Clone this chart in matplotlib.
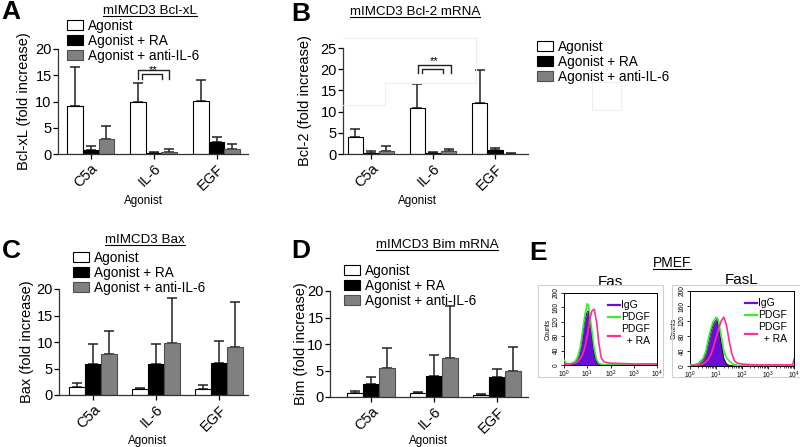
import numpy as np
import matplotlib
matplotlib.use("Agg")
import matplotlib.pyplot as plt
from matplotlib.patches import Patch, Rectangle
from matplotlib.lines import Line2D

plt.rcParams['font.family'] = ['Liberation Sans', 'DejaVu Sans']

agonists = ["C5a", "IL-6", "EGF"]
groups = ["Agonist", "Agonist + RA", "Agonist + anti-IL-6"]

# mean and top of error bar, per group: [C5a, IL-6, EGF]
bclxl_mean = [[9.2, 9.9, 10.1], [0.7, 0.2, 2.2], [2.8, 0.4, 0.9]]
bclxl_top = [[16.6, 13.5, 14.1], [1.6, 0.3, 3.3], [5.4, 0.9, 2.0]]
bcl2_mean = [[4.1, 10.8, 12.1], [0.3, 0.3, 0.9], [0.8, 0.6, 0.1]]
bcl2_top = [[6.0, 16.6, 19.9], [0.6, 0.4, 1.4], [1.8, 1.2, 0.15]]
bax_mean = [[1.5, 1.2, 1.1], [5.9, 5.8, 6.1], [7.7, 9.8, 9.0]]
bax_top = [[2.2, 1.4, 1.9], [9.6, 9.7, 10.2], [12.0, 18.3, 17.6]]
bim_mean = [[0.7, 0.8, 0.3], [2.4, 3.9, 3.7], [5.4, 7.3, 4.9]]
bim_top = [[1.1, 0.9, 0.5], [3.8, 7.9, 5.2], [9.3, 17.2, 9.4]]

# flow cytometry histograms (log10 of intensity vs counts)
flow_logx = [0.0, 0.1, 0.2, 0.3, 0.4, 0.5, 0.6, 0.7, 0.8, 0.9, 1.0, 1.05, 1.1, 1.2,
             1.3, 1.4, 1.5, 1.6, 1.7, 1.8, 2.0, 2.5, 3.0, 3.5, 3.95, 4.0]
fas_igg = [8, 3, 3, 4, 6, 10, 20, 45, 85, 125, 148, 150, 135, 80, 30, 8, 3, 1, 0, 0,
           0, 0, 0, 0, 0, 0]
fas_pdgf = [14, 4, 3, 4, 6, 12, 25, 50, 95, 140, 170, 165, 145, 95, 45, 15, 5, 2, 1, 0,
            0, 0, 0, 0, 0, 0]
fas_ra = [3, 2, 2, 3, 4, 6, 10, 18, 30, 50, 80, 100, 125, 150, 155, 120, 60, 20, 10, 7,
          5, 4, 3, 3, 3, 3]
fasl_igg = [4, 3, 4, 6, 10, 15, 30, 60, 90, 112, 122, 125, 110, 60, 20, 6, 2, 1, 0, 0,
            0, 0, 0, 0, 0, 0]
fasl_pdgf = [4, 3, 4, 7, 12, 20, 38, 70, 100, 120, 130, 128, 118, 80, 40, 22, 14, 8, 4, 2,
             0, 0, 0, 0, 0, 0]
fasl_ra = [2, 2, 2, 3, 4, 6, 10, 18, 30, 50, 75, 85, 100, 120, 130, 110, 70, 35, 15, 8,
           5, 3, 3, 3, 3, 18]

W, H = 800, 447
fig = plt.figure(figsize=(8, 4.47), dpi=100)


def fx(px):
    return px / W


def fy(py):
    return 1 - py / H


def px_axes(l, t, r, b):
    return fig.add_axes([fx(l), fy(b), (r - l) / W, (b - t) / H])


fills = ["white", "black", "#808080"]
edges = ["black", "black", "#4d4d4d"]


def bar_panel(ax, means, tops, ymax, xlim, ylab, ylab_x, xlab_xy):
    x = np.arange(len(agonists))
    w = 0.25
    for i in range(3):
        pos = x + (i - 1) * w
        m = np.array(means[i])
        t = np.array(tops[i])
        ax.bar(pos, m, w, color=fills[i], edgecolor=edges[i], linewidth=0.8, zorder=2)
        ax.errorbar(pos, m, yerr=[np.zeros(3), t - m], fmt="none", ecolor="#222222",
                    elinewidth=1.1, capsize=3.5, capthick=1.1, zorder=1)
    ax.set_xlim(*xlim)
    ax.set_ylim(0, ymax)
    ax.set_yticks(np.arange(0, ymax + 1, 5))
    ax.set_xticks(x)
    ax.set_xticklabels(agonists, rotation=45, ha="right", rotation_mode="anchor", fontsize=10.5)
    ax.tick_params(axis="y", labelsize=10.5, length=3.5, width=0.9, pad=1)
    ax.tick_params(axis="x", length=3.5, width=0.9, pad=2)
    for s in ["top", "right"]:
        ax.spines[s].set_visible(False)
    for s in ["left", "bottom"]:
        ax.spines[s].set_linewidth(0.9)
        ax.spines[s].set_color("#333333")
    ax.set_ylabel(ylab, fontsize=10.5)
    ax.yaxis.set_label_coords(ylab_x, 0.5)
    ax.set_xlabel("Agonist", fontsize=8.4, va="top")
    ax.xaxis.set_label_coords(*xlab_xy)


def bracket(ax, x0, x1, xi0, xi1, y_out, y_in, y_low, y_star):
    ax.plot([x0, x0, x1, x1], [y_low, y_out, y_out, y_low], color="#222222", lw=1)
    ax.plot([xi0, xi0, xi1, xi1], [y_low, y_in, y_in, y_low], color="#222222", lw=1)
    ax.text((x0 + x1) / 2, y_star, "**", ha="center", va="baseline", fontsize=8)


def legend_at(handles, x, y):
    fig.legend(handles, groups, loc="upper left", bbox_to_anchor=(fx(x), fy(y)),
               frameon=False, fontsize=9.8, handlelength=1.15, handleheight=0.75,
               handletextpad=0.4, labelspacing=0.08, borderpad=0, borderaxespad=0)


handles = [Patch(facecolor=fills[i], edgecolor=edges[i], linewidth=0.8) for i in range(3)]

# A
axA = px_axes(58, 49, 248, 154)
bar_panel(axA, bclxl_mean, bclxl_top, 20, (-0.52, 2.5), "Bcl-xL (fold increase)", -0.14, (0.45, -0.39))
bracket(axA, 0.75, 1.25, 0.82, 1.13, 16.0, 15.2, 14.3, 15.4)
legend_at(handles, 67, 19)

# B
axB = px_axes(343, 48, 528, 154)
bar_panel(axB, bcl2_mean, bcl2_top, 25, (-0.45, 2.53), "Bcl-2 (fold increase)", -0.17, (0.405, -0.39))
bracket(axB, 0.76, 1.29, 0.82, 1.16, 21.0, 20.0, 19.1, 21.1)
legend_at(handles, 537, 40)

# C
axC = px_axes(59, 289, 248, 395)
bar_panel(axC, bax_mean, bax_top, 20, (-0.54, 2.46), "Bax (fold increase)", -0.13, (0.466, -0.377))
legend_at(handles, 73, 251)

# D
axD = px_axes(330, 291, 528, 397)
bar_panel(axD, bim_mean, bim_top, 20, (-0.65, 2.49), "Bim (fold increase)", -0.112, (0.495, -0.358))
legend_at(handles, 344, 264)

# faint artefact lines in panel B
faint = "#eeeeee"
for xs, ys in [([343, 476, 476, 385, 385, 343], [38, 38, 83, 83, 105, 105]),
               ([592, 621, 621, 592, 592], [82, 82, 110, 110, 82])]:
    fig.add_artist(Line2D([fx(v) for v in xs], [fy(v) for v in ys], color=faint, lw=0.8))


# E: flow histograms
def flow_panel(ax, igg, pdgf, ra, title):
    xs = 10 ** np.array(flow_logx)
    ax.fill_between(xs, igg, color="#6a0dd6", lw=0, zorder=1)
    ax.plot(xs, igg, color="#111111", lw=0.7, zorder=2)
    ax.plot(xs, pdgf, color="#33ee33", lw=1.2, zorder=3)
    ax.plot(xs, ra, color="#ff2e93", lw=1.2, zorder=4)
    ax.set_xscale("log")
    ax.set_xlim(1, 1e4)
    ax.set_ylim(0, 200)
    ax.set_xticks([1, 10, 100, 1000, 10000])
    ax.set_yticks([0, 40, 80, 120, 160, 200])
    ax.tick_params(labelsize=4.8, length=2, width=0.6, pad=1)
    ax.tick_params(which="minor", length=1.2, width=0.5)
    for lab in ax.get_yticklabels():
        lab.set_rotation(90)
        lab.set_va("center")
    for s in ax.spines.values():
        s.set_linewidth(0.7)
    ax.set_ylabel("Counts", fontsize=4.8, labelpad=1)
    leg_h = [Line2D([], [], color="#6a0dd6", lw=1.6), Line2D([], [], color="#33ee33", lw=1.6),
             Line2D([], [], color="#ff2e93", lw=1.6)]
    ax.legend(leg_h, ["IgG", "PDGF", "PDGF\n  + RA"], loc="upper right", frameon=False,
              fontsize=7.5, handlelength=1.2, handletextpad=0.05, labelspacing=0.2,
              borderaxespad=0.3)
    ax.set_title(title, fontsize=11, pad=5)


for (l, r) in [(538, 663), (672, 800)]:
    fig.add_artist(Rectangle((fx(l), fy(377)), (r - l) / W, 92 / H, transform=fig.transFigure,
                             fill=False, edgecolor="#d0d0d0", lw=0.8))

axE1 = px_axes(564, 293, 657, 365)
flow_panel(axE1, fas_igg, fas_pdgf, fas_ra, "Fas")
axE2 = px_axes(690, 291, 794, 366)
flow_panel(axE2, fasl_igg, fasl_pdgf, fasl_ra, "FasL")

# panel letters
for letter, x, y in [("A", 1, 0), ("B", 291, 2), ("C", 2, 239), ("D", 291, 239), ("E", 529, 241)]:
    fig.text(fx(x), fy(y), letter, fontsize=19, fontweight="bold", ha="left", va="top")

# underlined titles
titles = [("mIMCD3 Bcl-xL", 150, 11, 9.6), ("mIMCD3 Bcl-2 mRNA", 415, 12, 9.6),
          ("mIMCD3 Bax", 145, 240, 9.6), ("mIMCD3 Bim mRNA", 437, 245, 9.6),
          ("PMEF", 672, 263, 10)]
txts = []
for s, x, y, size in titles:
    txts.append(fig.text(fx(x), fy(y), s, fontsize=size, ha="center", va="center"))
fig.canvas.draw()
r = fig.canvas.get_renderer()
for t in txts:
    bb = t.get_window_extent(r).transformed(fig.transFigure.inverted())
    fig.add_artist(Line2D([bb.x0, bb.x1], [bb.y0 + 0.002, bb.y0 + 0.002], color="black", lw=0.8))

fig.savefig("out.png", dpi=100)
